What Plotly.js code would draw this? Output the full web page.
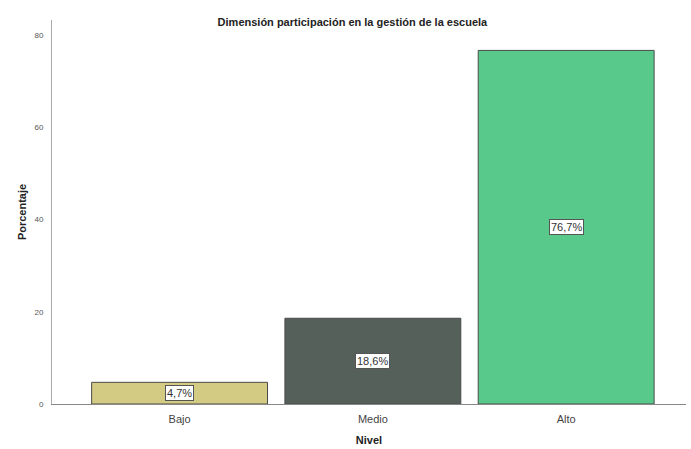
<!DOCTYPE html>
<html>
<head>
<meta charset="utf-8">
<script src="https://cdn.plot.ly/plotly-3.0.1.min.js"></script>
<style>html,body{margin:0;padding:0;background:#fff;}#chart{width:691px;height:449px;}</style>
</head>
<body>
<div id="chart"></div>
<script>
const categories = ["Bajo", "Medio", "Alto"];
const percentages = [4.7, 18.6, 76.7];
const barLabels = ["4,7%", "18,6%", "76,7%"];
const barColors = ["#d3cb84", "#56605a", "#58c98a"];
const yTickVals = [0, 20, 40, 60, 80];

const trace = {
  type: "bar",
  x: categories,
  y: percentages,
  width: 0.91,
  marker: { color: barColors, line: { color: "#4a4a4a", width: 1 } },
  hoverinfo: "none"
};

const annotations = categories.map((c, i) => ({
  x: c, y: percentages[i] / 2, xref: "x", yref: "y",
  text: barLabels[i], showarrow: false,
  font: { family: "Arial, Liberation Sans, sans-serif", size: 11, color: "#333" },
  bgcolor: "#ffffff", bordercolor: "#555", borderwidth: 1, borderpad: 1
}));

const layout = {
  width: 691, height: 449,
  margin: { l: 52, r: 5, t: 20, b: 45 },
  paper_bgcolor: "#fff", plot_bgcolor: "#fff",
  showlegend: false,
  title: { text: "<b>Dimensión participación en la gestión de la escuela</b>", x: 0.51, xanchor: "center", y: 0.95, yanchor: "middle",
           font: { family: "Arial, Liberation Sans, sans-serif", size: 11, color: "#222" } },
  xaxis: {
    type: "category", range: [-0.66, 2.62],
    showline: true, linecolor: "#888", linewidth: 1,
    ticks: "", showgrid: false, zeroline: false,
    ticklabelstandoff: 5,
    tickfont: { family: "Arial, Liberation Sans, sans-serif", size: 11, color: "#444" },
    title: { text: "<b>Nivel</b>", standoff: 12, font: { family: "Arial, Liberation Sans, sans-serif", size: 11, color: "#222" } }
  },
  yaxis: {
    range: [0, 83.3], tickvals: yTickVals,
    showline: true, linecolor: "#aaa", linewidth: 1,
    ticks: "", showgrid: false, zeroline: false,
    tickfont: { family: "Arial, Liberation Sans, sans-serif", size: 8, color: "#555" },
    ticklabelstandoff: 6,
    title: { text: "<b>Porcentaje</b>", standoff: 5, font: { family: "Arial, Liberation Sans, sans-serif", size: 11, color: "#222" } }
  },
  annotations: annotations,
  bargap: 0.1
};

Plotly.newPlot("chart", [trace], layout, { displayModeBar: false, staticPlot: true });
</script>
</body>
</html>
